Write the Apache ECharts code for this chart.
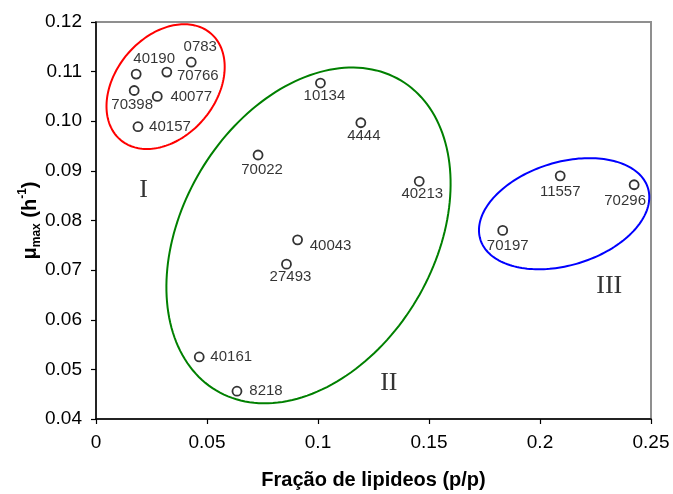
<!DOCTYPE html>
<html>
<head>
<meta charset="utf-8">
<script src="https://cdn.jsdelivr.net/npm/echarts@6/dist/echarts.min.js"></script>
<style>
  html, body { margin: 0; padding: 0; background: #fff; }
  #chart { width: 673px; height: 494px; }
</style>
</head>
<body>
<div id="chart"></div>
<script>
// Strains: lipid fraction (p/p) vs maximum specific growth rate (h^-1)
const strainIds = ['40190', '0783', '70766', '70398', '40077', '40157',
  '10134', '4444', '70022', '40213', '40043', '27493', '40161', '8218',
  '11557', '70296', '70197'];
const lipidFraction = [0.0181, 0.0429, 0.0319, 0.0172, 0.0276, 0.0189,
  0.1011, 0.1193, 0.0730, 0.1456, 0.0908, 0.0858, 0.0465, 0.0635,
  0.2091, 0.2424, 0.1832];
const muMax = [0.1095, 0.1119, 0.1099, 0.1062, 0.1050, 0.0989,
  0.1077, 0.0997, 0.0932, 0.0879, 0.0761, 0.0712, 0.0525, 0.0456,
  0.0890, 0.0872, 0.0780];

// Axis tick labels
const xTickLabels = ['0', '0.05', '0.1', '0.15', '0.2', '0.25'];
const yTickLabels = ['0.04', '0.05', '0.06', '0.07', '0.08', '0.09', '0.10', '0.11', '0.12'];

// Groups: name, ellipse centre, end of major semi-axis, end of minor semi-axis (data units)
const groupNames = ['I', 'II', 'III'];
const groupCenter = [[0.03135, 0.10698], [0.09572, 0.07699], [0.21087, 0.08137]];
const groupMajorEnd = [[0.0516, 0.11774], [0.13730, 0.10823], [0.24862, 0.08654]];
const groupMinorEnd = [[0.01407, 0.11348], [0.04705, 0.08997], [0.20406, 0.09130]];
const groupLabelAt = [[0.0214, 0.0862], [0.1319, 0.0472], [0.2312, 0.0667]];

// Label placement for each strain (pixel offset of the label centre from its point)
const labelOffsets = [[18, -15], [9, -15], [31, 4], [-2, 14], [34, 0], [32, 0],
  [4, 13], [3, 13], [4, 15], [3, 13], [33, 6], [4, 13], [32, 0], [29, 0],
  [0, 16], [-9, 16], [5, 15]];
const groupColors = ['#ff0000', '#008000', '#0000ff'];

const FONT = '"Liberation Sans", Arial, sans-serif';

const pointData = strainIds.map((id, i) => ({
  name: id,
  value: [lipidFraction[i], muMax[i]],
  label: { offset: labelOffsets[i] }
}));

const ellipseData = groupNames.map((g, i) => ({
  name: g,
  value: [groupCenter[i][0], groupCenter[i][1],
          groupMajorEnd[i][0], groupMajorEnd[i][1],
          groupMinorEnd[i][0], groupMinorEnd[i][1]]
}));

const chart = echarts.init(document.getElementById('chart'), null, { renderer: 'canvas' });

chart.setOption({
  animation: false,
  backgroundColor: '#ffffff',
  grid: {
    left: 96, right: 22, top: 22, bottom: 75,
    outerBoundsMode: 'none',
    show: true, borderColor: '#8f8f8f', borderWidth: 2, backgroundColor: 'transparent'
  },
  xAxis: {
    type: 'value', min: 0, max: 0.25, interval: 0.05,
    name: 'Fração de lipideos (p/p)',
    nameLocation: 'middle', nameGap: 51,
    nameMoveOverlap: false,
    nameTextStyle: { fontFamily: FONT, fontSize: 20, fontWeight: 'bold', color: '#000' },
    axisLine: { show: true, lineStyle: { color: '#000', width: 1.5 } },
    axisTick: { show: true, inside: false, length: 5, lineStyle: { color: '#000', width: 1.2 } },
    axisLabel: {
      margin: 14, fontFamily: FONT, fontSize: 19, color: '#000',
      formatter: v => xTickLabels[Math.round(v / 0.05)]
    },
    splitLine: { show: false }
  },
  yAxis: {
    type: 'value', min: 0.04, max: 0.12, interval: 0.01,
    name: '{b|μ}{sub|max}{b| (h}{sup|-1}{b|)}',
    nameLocation: 'middle', nameGap: 53,
    nameMoveOverlap: false,
    nameTextStyle: {
      fontFamily: FONT, fontSize: 20, fontWeight: 'bold', color: '#000',
      rich: {
        b: { fontFamily: FONT, fontSize: 20, fontWeight: 'bold', color: '#000', lineHeight: 26, verticalAlign: 'middle' },
        sub: { fontFamily: FONT, fontSize: 12, fontWeight: 'bold', color: '#000', lineHeight: 12, verticalAlign: 'bottom' },
        sup: { fontFamily: FONT, fontSize: 12, fontWeight: 'bold', color: '#000', lineHeight: 12, verticalAlign: 'top' }
      }
    },
    axisLine: { show: true, lineStyle: { color: '#000', width: 1.5 } },
    axisTick: { show: true, inside: false, length: 5, lineStyle: { color: '#000', width: 1.2 } },
    axisLabel: {
      margin: 14, fontFamily: FONT, fontSize: 19, color: '#000',
      formatter: v => yTickLabels[Math.round((v - 0.04) / 0.01)]
    },
    splitLine: { show: false }
  },
  series: [
    {
      // group ellipses, drawn from centre and conjugate semi-axis points
      type: 'custom',
      silent: true,
      clip: false,
      z: 1,
      dimensions: ['cx', 'cy', 'ax', 'ay', 'bx', 'by'],
      encode: { x: [0, 2, 4], y: [1, 3, 5] },
      data: ellipseData,
      renderItem: (params, api) => {
        const c = api.coord([api.value(0), api.value(1)]);
        const a = api.coord([api.value(2), api.value(3)]);
        const b = api.coord([api.value(4), api.value(5)]);
        const ux = a[0] - c[0], uy = a[1] - c[1];
        const vx = b[0] - c[0], vy = b[1] - c[1];
        const pts = [];
        const n = 180;
        for (let k = 0; k < n; k++) {
          const t = (k / n) * Math.PI * 2;
          pts.push([c[0] + ux * Math.cos(t) + vx * Math.sin(t),
                    c[1] + uy * Math.cos(t) + vy * Math.sin(t)]);
        }
        return {
          type: 'polygon',
          shape: { points: pts },
          style: { fill: 'none', stroke: groupColors[params.dataIndex], lineWidth: 2 }
        };
      }
    },
    {
      // group numerals
      type: 'scatter',
      silent: true,
      symbolSize: 0,
      z: 2,
      data: groupNames.map((g, i) => ({ name: g, value: groupLabelAt[i] })),
      label: {
        show: true, position: 'inside', formatter: '{b}',
        fontFamily: '"Liberation Serif", "Times New Roman", serif',
        fontSize: 26, color: '#000'
      }
    },
    {
      type: 'scatter',
      z: 3,
      symbol: 'circle',
      symbolSize: 9,
      itemStyle: { color: '#fff', borderColor: '#000', borderWidth: 1.8 },
      data: pointData,
      label: {
        show: true, position: 'inside', formatter: '{b}',
        fontFamily: FONT, fontSize: 15, color: '#000'
      }
    }
  ]
});
</script>
</body>
</html>
